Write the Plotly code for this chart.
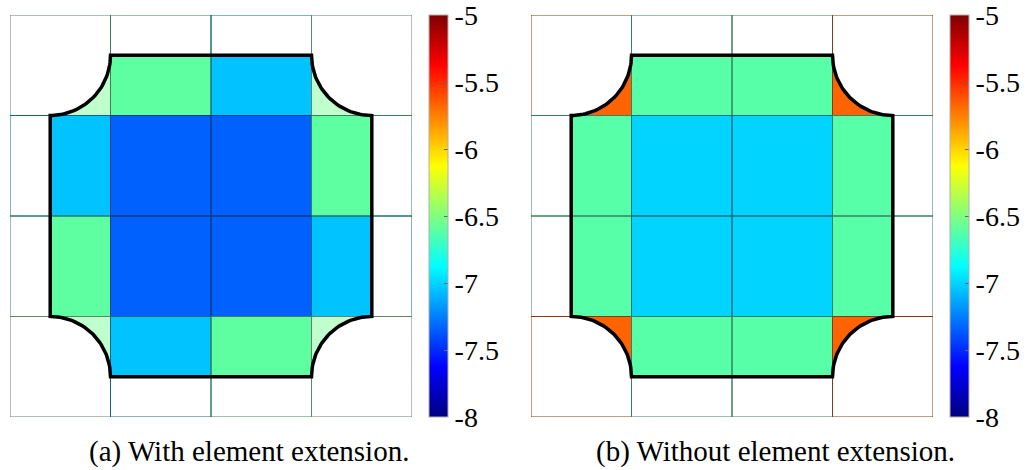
import numpy as np
import plotly.graph_objects as go

# ---------------- data ----------------
n_cells = 4
vmin, vmax = -8.0, -5.0
tick_vals = [-8, -7.5, -7, -6.5, -6, -5.5, -5]
tick_text = ["-8", "-7.5", "-7", "-6.5", "-6", "-5.5", "-5"]

# cell values, row 0 = top row
values_a = [
    [-6.55, -6.60, -7.05, -6.55],
    [-7.05, -7.34, -7.34, -6.60],
    [-6.60, -7.34, -7.34, -7.05],
    [-6.55, -7.05, -6.60, -6.55],
]
values_b = [
    [-5.67, -6.62, -6.62, -5.67],
    [-6.62, -7.00, -7.00, -6.62],
    [-6.62, -7.00, -7.00, -6.62],
    [-5.67, -6.62, -6.62, -5.67],
]
corner_alpha_a = 0.45
corner_alpha_b = 1.0
captions = ["(a) With element extension.", "(b) Without element extension."]

# geometry of the cut domain (in cell units)
inset = 0.4
radius = 0.6

# ---------------- page geometry ----------------
W, H = 1029, 470
SERIF = "Liberation Serif, DejaVu Serif, Times New Roman, serif"

def px_x(p):
    return p / W

def px_y(p):
    return (H - p) / H

# ---------------- helpers ----------------
def jet(v):
    t = (v - vmin) / (vmax - vmin)
    r = np.clip(1.5 - abs(4 * t - 3), 0, 1)
    g = np.clip(1.5 - abs(4 * t - 2), 0, 1)
    b = np.clip(1.5 - abs(4 * t - 1), 0, 1)
    return np.array([r, g, b]) * 255

def rgb(c, a=1.0):
    c = np.clip(c, 0, 255)
    return f"rgba({int(round(c[0]))},{int(round(c[1]))},{int(round(c[2]))},{a})"

stops = np.linspace(0, 1, 65)
jet_scale = [[float(s), rgb(jet(vmin + s * (vmax - vmin)))] for s in stops]

phi = np.linspace(0, np.pi / 2, 40)
L = n_cells

def outline_pts():
    a, r = inset, radius
    xs, ys = [a, a], [L / 2, 1]
    xs += list(a + r * np.sin(phi)); ys += list(a + r * np.cos(phi))
    xs += [L - 1]; ys += [a]
    xs += list(L - a - r * np.cos(phi)); ys += list(a + r * np.sin(phi))
    xs += [L - a]; ys += [L - 1]
    xs += list(L - a - r * np.sin(phi)); ys += list(L - a - r * np.cos(phi))
    xs += [1]; ys += [L - a]
    xs += list(a + r * np.cos(phi)); ys += list(L - a - r * np.sin(phi))
    xs += [a]; ys += [L / 2]
    return np.array(xs), np.array(ys)

def corner_piece(row, col):
    a, r = inset, radius
    xs = [1, a] + list(a + r * np.sin(phi)) + [1]
    ys = [1, 1] + list(a + r * np.cos(phi)) + [1]
    xs, ys = np.array(xs, float), np.array(ys, float)
    if col == L - 1:
        xs = L - xs
    if row == L - 1:
        ys = L - ys
    return xs, ys

corners = [(0, 0), (0, L - 1), (L - 1, 0), (L - 1, L - 1)]

fig = go.Figure()
panels = [
    (values_a, corner_alpha_a, "x", "y", 429),
    (values_b, corner_alpha_b, "x2", "y2", 950),
]
centres = [i + 0.5 for i in range(L)]
ox, oy = outline_pts()

for values, calpha, xa, ya, cbx in panels:
    z = [[None if (r, c) in corners else values[r][c] for c in range(L)] for r in range(L)]
    fig.add_trace(go.Heatmap(
        x=centres, y=centres, z=z, xaxis=xa, yaxis=ya,
        colorscale=jet_scale, zmin=vmin, zmax=vmax, hoverinfo="skip",
        colorbar=dict(
            x=px_x(cbx), xanchor="left", xpad=0, ypad=0,
            y=px_y(216), yanchor="middle", len=402 / H, lenmode="fraction",
            thickness=19, thicknessmode="pixels",
            outlinecolor="#b0b0b0", outlinewidth=1,
            tickvals=tick_vals, ticktext=tick_text,
            ticks="inside", ticklen=4, tickcolor="#666666",
            ticklabeloverflow="allow",
            tickfont=dict(family=SERIF, size=28, color="black"),
        ),
    ))
    # white mask outside the cut domain (keyhole polygon)
    mx = [0, 0, L, L, 0, 0] + list(ox[::-1]) + [0]
    my = [L / 2, 0, 0, L, L, L / 2] + list(oy[::-1]) + [L / 2]
    fig.add_trace(go.Scatter(x=mx, y=my, xaxis=xa, yaxis=ya, mode="lines",
                             line=dict(width=0, color="white"), fill="toself",
                             fillcolor="white", hoverinfo="skip", showlegend=False))
    # corner pieces
    for (r, c) in corners:
        px, py = corner_piece(r, c)
        fig.add_trace(go.Scatter(x=px, y=py, xaxis=xa, yaxis=ya, mode="lines",
                                 line=dict(width=0), fill="toself",
                                 fillcolor=rgb(jet(values[r][c]), calpha),
                                 hoverinfo="skip", showlegend=False))
    # cell edges (darkened cell colour)
    for r in range(L):
        for c in range(L):
            base = jet(values[r][c])
            if (r, c) in corners:
                base = 255 - calpha * (255 - base)
            ec = base * 0.45 + 15
            fig.add_trace(go.Scatter(x=[c, c + 1, c + 1, c, c], y=[r, r, r + 1, r + 1, r],
                                     xaxis=xa, yaxis=ya, mode="lines",
                                     line=dict(width=1, color=rgb(ec)),
                                     hoverinfo="skip", showlegend=False))
    # thick outline
    fig.add_trace(go.Scatter(x=ox, y=oy, xaxis=xa, yaxis=ya, mode="lines",
                             line=dict(width=3.5, color="black"),
                             hoverinfo="skip", showlegend=False))

ydom = [px_y(417), px_y(15)]
ax_common = dict(visible=False, showgrid=False, zeroline=False, fixedrange=True)
fig.update_layout(
    width=W, height=H, margin=dict(l=0, r=0, t=0, b=0),
    paper_bgcolor="white", plot_bgcolor="white", showlegend=False,
    xaxis=dict(domain=[px_x(10), px_x(412)], range=[0, L], **ax_common),
    yaxis=dict(domain=ydom, range=[L, 0], **ax_common),
    xaxis2=dict(domain=[px_x(531), px_x(933)], range=[0, L], anchor="y2", **ax_common),
    yaxis2=dict(domain=ydom, range=[L, 0], anchor="x2", **ax_common),
    annotations=[
        dict(text=captions[0], x=px_x(249), y=px_y(451), xref="paper", yref="paper",
             showarrow=False, xanchor="center", yanchor="middle",
             font=dict(family=SERIF, size=29, color="black")),
        dict(text=captions[1], x=px_x(775), y=px_y(451), xref="paper", yref="paper",
             showarrow=False, xanchor="center", yanchor="middle",
             font=dict(family=SERIF, size=29, color="black")),
    ],
)

fig.write_html("out.html", config={"displayModeBar": False},
               post_script="document.body.style.margin='0px';")
